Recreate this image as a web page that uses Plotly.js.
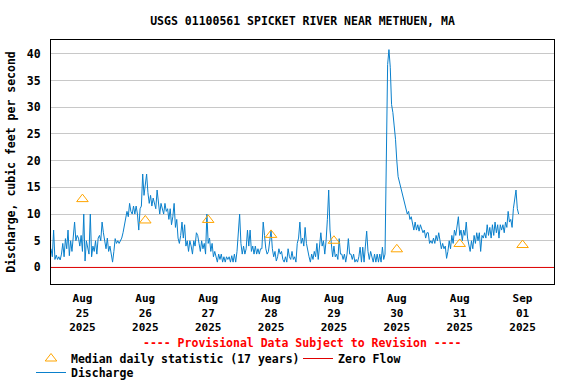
<!DOCTYPE html>
<html>
<head>
<meta charset="utf-8">
<script src="https://cdn.plot.ly/plotly-3.0.1.min.js"></script>
<style>html,body{margin:0;padding:0;background:#fff;}#chart{width:576px;height:384px;}</style>
</head>
<body>
<div id="chart"></div>
<script>
// Discharge, cubic feet per second, every 30 minutes from 2025-08-25 00:00
const dischargeStart = '2025-08-25T00:00:00Z';
const dischargeStepMinutes = 30;
const discharge = [
  3.5, 2.0, 7.0, 1.5, 2.3, 1.5, 2.0, 1.4, 2.5, 4.5,
  2.0, 5.4, 3.5, 7.0, 2.2, 5.0, 3.0, 5.5, 8.5, 5.0,
  6.0, 5.5, 4.0, 6.0, 3.0, 10.0, 1.2, 5.0, 4.0, 2.5,
  10.0, 2.0, 4.0, 3.0, 5.0, 2.5, 5.5, 6.0, 5.0, 8.5,
  6.5, 5.0, 3.5, 5.5, 3.0, 4.0, 2.5, 1.0, 3.0, 5.4,
  4.5, 5.0, 4.5, 5.0, 5.5, 6.5, 8.0, 9.0, 10.5, 9.5,
  12.0, 10.5, 10.0, 11.5, 10.0, 11.5, 10.0, 7.0, 11.0, 11.5,
  17.5, 13.5, 16.3,
  17.5, 14.0, 12.0, 13.5, 11.5, 13.0, 12.0, 11.0, 14.5, 12.0,
  10.0, 12.0, 11.0, 10.0, 12.0, 10.5, 11.0, 9.0, 11.0, 8.0,
  9.5, 12.0, 7.5, 9.0, 5.5, 4.5, 6.0, 8.5, 5.5, 8.0,
  4.0, 5.0, 3.0, 5.0, 4.0, 2.5, 5.0, 4.0, 6.5, 6.0,
  4.5, 3.0, 5.0, 3.5, 4.5, 2.5, 10.0, 4.5, 5.5, 3.0,
  4.5, 2.0, 3.0, 2.0, 1.0, 2.5, 1.5, 2.5, 1.0, 2.0,
  1.0, 2.0, 1.5, 2.0, 1.0, 2.2, 1.0, 2.5, 1.0, 3.0,
  6.0, 10.0,
  4.5, 2.5, 4.0, 2.5, 3.5, 7.0, 4.0, 7.0, 3.0, 4.0,
  2.5, 4.0, 2.5, 3.5, 2.5, 3.5, 3.5, 8.5, 6.0, 3.5,
  2.5, 3.0, 5.0, 7.0, 3.5, 2.0, 3.0, 1.2, 2.0, 3.5,
  2.5, 3.0, 1.5, 1.0, 2.0, 1.0, 3.5, 2.0, 1.5, 3.0,
  1.5, 2.0, 1.0, 4.5, 5.5, 8.5, 4.5, 5.5, 4.0, 7.5,
  4.5, 3.0, 2.0, 1.0, 2.5, 1.5, 3.0, 2.0, 4.5, 1.5,
  3.5, 6.5, 4.0, 5.0, 2.5, 5.0, 9.0, 14.5, 7.0, 5.0,
  2.0, 4.0,
  2.0, 2.5, 1.5, 5.4, 2.5, 2.5, 1.5, 2.5, 1.0, 2.5,
  5.4, 2.5, 2.5, 1.5, 2.5, 1.0, 1.5, 1.0, 2.0, 3.8,
  1.0, 3.8, 1.0, 4.0, 6.8, 3.0, 1.5, 3.0, 2.0, 1.0,
  2.5, 1.0, 2.5, 1.0, 2.5, 1.0, 3.8, 1.5, 2.5, 24.0,
  38.0, 40.8, 37.5, 30.5, 29.0, 26.5, 24.0, 20.0, 17.0, 16.0,
  15.0, 14.0, 13.0, 12.0, 11.0, 10.0, 10.5, 9.0, 9.5, 8.0,
  7.0, 8.5, 7.0, 8.0, 6.8, 8.0, 7.0, 6.5, 7.0, 5.5,
  6.5,
  6.5, 4.5, 5.0, 4.5, 5.5, 4.5, 6.0, 5.0, 6.5, 5.0,
  3.5, 4.5, 3.5, 4.0, 1.7, 3.0, 5.0, 3.5, 6.0, 4.5,
  7.0, 6.0, 8.0, 9.5, 6.0, 7.0, 5.0, 7.0, 6.0, 8.5,
  5.5, 4.5, 3.0, 5.0, 3.5, 6.0, 4.5, 6.5, 5.0, 6.5,
  3.0, 6.0, 5.5, 6.5, 5.5, 8.0, 6.0, 7.5, 5.5, 8.0,
  6.0, 8.5, 6.5, 8.0, 5.5, 8.0, 7.0, 8.0, 6.5, 8.5,
  7.5, 10.5, 8.5, 9.0, 7.5, 11.0, 13.0, 14.5, 11.0, 10.0
];

// Median daily statistic (17 years), plotted at noon of each day
const medianDates = ['2025-08-25 12:00','2025-08-26 12:00','2025-08-27 12:00','2025-08-28 12:00',
                     '2025-08-29 12:00','2025-08-30 12:00','2025-08-31 12:00','2025-09-01 12:00'];
const medianValues = [12.8, 8.8, 8.9, 6.1, 5.0, 3.4, 4.4, 4.2];

// Zero flow reference line
const zeroFlowDates = ['2025-08-25 00:00', '2025-09-02 00:00'];
const zeroFlowValues = [0, 0];

// Axis ticks
const xTickDates = medianDates;
const xTickText = ['Aug<br>25<br>2025','Aug<br>26<br>2025','Aug<br>27<br>2025','Aug<br>28<br>2025',
                   'Aug<br>29<br>2025','Aug<br>30<br>2025','Aug<br>31<br>2025','Sep<br>01<br>2025'];
const yTickValues = [0, 5, 10, 15, 20, 25, 30, 35, 40];
const xRange = ['2025-08-25 00:00', '2025-09-02 00:00'];
const yRange = [-3.1, 42.6];

const t0 = Date.parse(dischargeStart);
const dischargeDates = discharge.map((_, i) =>
  new Date(t0 + i * dischargeStepMinutes * 60000).toISOString().slice(0, 16).replace('T', ' '));

const FONT = 'DejaVu Sans Mono, Liberation Mono, monospace';
const baseFont = {family: FONT, size: 11.5, color: '#000', weight: 'bold'};

const traces = [
  {x: dischargeDates, y: discharge, type: 'scatter', mode: 'lines', name: 'Discharge',
   line: {color: '#0a80cc', width: 1}, legend: 'legend3', hoverinfo: 'skip'},
  {x: zeroFlowDates, y: zeroFlowValues, type: 'scatter', mode: 'lines', name: 'Zero Flow',
   line: {color: '#e00000', width: 1}, legend: 'legend2', hoverinfo: 'skip'},
  {x: medianDates, y: medianValues, type: 'scatter', mode: 'markers', name: 'Median daily statistic (17 years)',
   marker: {symbol: 'triangle-up-open', size: 10, color: '#ffa500', line: {width: 1, color: '#ffa500'}},
   legend: 'legend', hoverinfo: 'skip'}
];

function legendAt(px, py) {
  return {orientation: 'h', xref: 'container', yref: 'container', x: px / 576, y: 1 - py / 384,
          xanchor: 'left', yanchor: 'top', font: Object.assign({}, baseFont),
          bgcolor: 'rgba(0,0,0,0)', itemwidth: 30};
}

const layout = {
  width: 576, height: 384,
  margin: {l: 51, r: 22, t: 40, b: 100, pad: 0},
  paper_bgcolor: '#fff', plot_bgcolor: '#fff',
  font: baseFont,
  showlegend: true,
  title: {text: 'USGS 01100561 SPICKET RIVER NEAR METHUEN, MA', font: baseFont,
          xref: 'paper', x: 0.5, xanchor: 'center', yref: 'container', y: 1 - 20.5/384, yanchor: 'middle'},
  xaxis: {type: 'date', range: xRange, tickmode: 'array', tickvals: xTickDates, ticktext: xTickText,
          showgrid: false, zeroline: false, ticks: '', showline: true, mirror: true,
          linecolor: '#000', linewidth: 1, tickfont: {family: FONT, size: 11, color: '#000', weight: 'bold'},
          ticklabelstandoff: 4},
  xaxis2: {type: 'date', range: xRange, overlaying: 'x', anchor: 'y', side: 'bottom',
           tickmode: 'linear', tick0: '2025-08-25 00:00', dtick: 86400000,
           showgrid: true, gridcolor: '#c8c8c8', gridwidth: 1, showticklabels: false, ticks: '',
           zeroline: false, showline: false},
  yaxis: {range: yRange, tickmode: 'array', tickvals: yTickValues, showgrid: true, gridcolor: '#c8c8c8',
          gridwidth: 1, zeroline: false, ticks: '', showline: true, mirror: true, linecolor: '#000',
          linewidth: 1, tickfont: baseFont, ticklabelstandoff: 7,
          title: {text: 'Discharge, cubic feet per second', font: baseFont, standoff: 8}},
  legend: legendAt(31, 344),
  legend2: legendAt(298, 344),
  legend3: legendAt(31, 358),
  annotations: [{text: '---- Provisional Data Subject to Revision ----', xref: 'paper', yref: 'paper',
                 x: 0.5, y: -(343.5 - 284) / 244.5, xanchor: 'center', yanchor: 'middle', showarrow: false,
                 font: {family: FONT, size: 11.5, color: '#ff0000', weight: 'bold'}}]
};

Plotly.newPlot('chart', traces, layout, {staticPlot: true, displayModeBar: false});
</script>
</body>
</html>
